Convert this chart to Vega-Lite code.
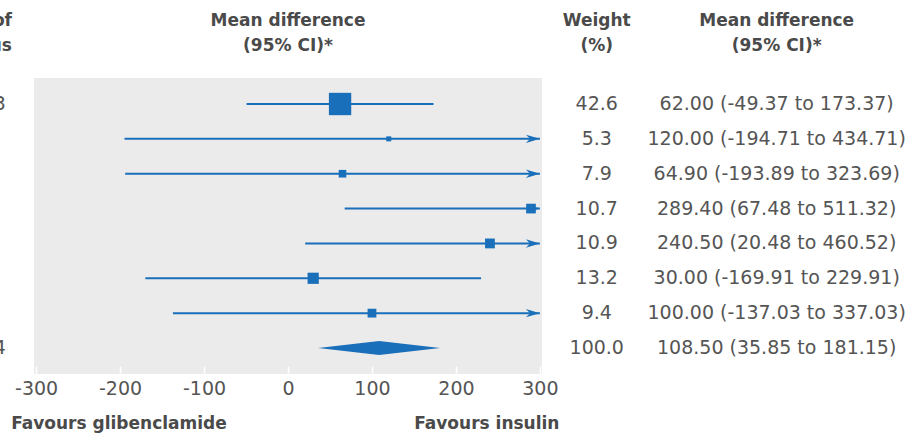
{
  "$schema": "https://vega.github.io/schema/vega-lite/v6.json",
  "width": 508,
  "height": 296,
  "autosize": {"type": "none"},
  "padding": {"left": 34, "top": 78, "right": 366, "bottom": 60},
  "background": "white",
  "config": {
    "font": "DejaVu Sans",
    "view": {"fill": "#ebebeb", "stroke": null}
  },
  "datasets": {
    "studies": [
      {"row": 1, "md": 62.0, "lo": -49.37, "hi": 173.37, "weight": 42.6, "label": "62.00 (-49.37 to 173.37)"},
      {"row": 2, "md": 120.0, "lo": -194.71, "hi": 434.71, "weight": 5.3, "label": "120.00 (-194.71 to 434.71)"},
      {"row": 3, "md": 64.9, "lo": -193.89, "hi": 323.69, "weight": 7.9, "label": "64.90 (-193.89 to 323.69)"},
      {"row": 4, "md": 289.4, "lo": 67.48, "hi": 511.32, "weight": 10.7, "label": "289.40 (67.48 to 511.32)"},
      {"row": 5, "md": 240.5, "lo": 20.48, "hi": 460.52, "weight": 10.9, "label": "240.50 (20.48 to 460.52)"},
      {"row": 6, "md": 30.0, "lo": -169.91, "hi": 229.91, "weight": 13.2, "label": "30.00 (-169.91 to 229.91)"},
      {"row": 7, "md": 100.0, "lo": -137.03, "hi": 337.03, "weight": 9.4, "label": "100.00 (-137.03 to 337.03)"}
    ],
    "total": [
      {"row": 8, "md": 108.5, "lo": 35.85, "hi": 181.15, "weight": 100.0, "label": "108.50 (35.85 to 181.15)"}
    ],
    "headers": [
      {"col": 0, "line": -1.39, "text": "Mean difference"},
      {"col": 0, "line": -0.67, "text": "(95% CI)*"},
      {"col": 367.7, "line": -1.39, "text": "Weight"},
      {"col": 367.7, "line": -0.67, "text": "(%)"},
      {"col": 582, "line": -1.39, "text": "Mean difference"},
      {"col": 582, "line": -0.67, "text": "(95% CI)*"}
    ],
    "fragments": [
      {"line": -1.39, "text": "of"},
      {"line": -0.67, "text": "us"}
    ],
    "rowfragments": [
      {"line": 1, "text": "3"},
      {"line": 8, "text": "4"}
    ],
    "favours": [
      {"side": "Favours glibenclamide", "pos": -201.3},
      {"side": "Favours insulin", "pos": 236.8}
    ]
  },
  "layer": [
    {
      "mark": {"type": "rule", "color": "#1a6fba", "strokeWidth": 2},
      "encoding": {
        "x": {"datum": 0, "type": "quantitative", "scale": {"domain": [-302.5, 302.5], "nice": false, "zero": false},
          "axis": {"values": [-300, -200, -100, 0, 100, 200, 300], "domain": false, "grid": false, "title": null,
            "tickColor": "white", "tickSize": -8, "tickWidth": 1.5, "labelFontSize": 19, "labelColor": "#555555",
            "labelPadding": 13, "labelFont": "DejaVu Sans", "labelFlush": false,
            "labelExpr": "replace(datum.label, '\u2212', '-')"}}
      }
    },
    {
      "mark": {"type": "rule", "color": "#1a6fba", "strokeWidth": 2, "strokeDash": [4, 3]},
      "encoding": {
        "x": {"datum": 108.5, "type": "quantitative"},
        "y": {"datum": 1.15, "type": "quantitative", "scale": {"domain": [0.254, 8.746], "reverse": true, "nice": false, "zero": false}, "axis": null},
        "y2": {"datum": 7.7}
      }
    },
    {
      "data": {"name": "studies"},
      "transform": [{"calculate": "min(datum.hi, 300)", "as": "hi_shown"}],
      "mark": {"type": "rule", "color": "#1a6fba", "strokeWidth": 2},
      "encoding": {
        "x": {"field": "lo", "type": "quantitative"},
        "x2": {"field": "hi_shown"},
        "y": {"field": "row", "type": "quantitative"}
      }
    },
    {
      "data": {"name": "studies"},
      "transform": [{"filter": "datum.hi > 300"}],
      "mark": {"type": "point", "shape": "M-2,-0.6L0,0L-2,0.6L-1.4,0Z", "size": 196, "filled": true, "color": "#1a6fba", "opacity": 1},
      "encoding": {
        "x": {"datum": 300, "type": "quantitative"},
        "y": {"field": "row", "type": "quantitative"}
      }
    },
    {
      "data": {"name": "studies"},
      "mark": {"type": "square", "filled": true, "color": "#1a6fba", "opacity": 1},
      "encoding": {
        "x": {"field": "md", "type": "quantitative"},
        "y": {"field": "row", "type": "quantitative"},
        "size": {"field": "weight", "type": "quantitative", "scale": {"domain": [5.3, 42.6], "range": [25, 500], "zero": false}, "legend": null}
      }
    },
    {
      "data": {"name": "total"},
      "mark": {"type": "point", "shape": "M-1,0L0,-0.115L1,0L0,0.115Z", "size": 14884, "filled": true, "color": "#1a6fba", "opacity": 1},
      "encoding": {
        "x": {"field": "md", "type": "quantitative"},
        "y": {"field": "row", "type": "quantitative"}
      }
    },
    {
      "data": {"name": "studies"},
      "mark": {"type": "text", "fontSize": 19, "color": "#555555", "align": "center", "baseline": "middle"},
      "encoding": {
        "x": {"datum": 367.7, "type": "quantitative"},
        "y": {"field": "row", "type": "quantitative"},
        "text": {"field": "weight", "type": "quantitative", "format": ".1f"}
      }
    },
    {
      "data": {"name": "total"},
      "mark": {"type": "text", "fontSize": 19, "color": "#555555", "align": "center", "baseline": "middle"},
      "encoding": {
        "x": {"datum": 367.7, "type": "quantitative"},
        "y": {"field": "row", "type": "quantitative"},
        "text": {"field": "weight", "type": "quantitative", "format": ".1f"}
      }
    },
    {
      "data": {"name": "studies"},
      "mark": {"type": "text", "fontSize": 19, "color": "#555555", "align": "center", "baseline": "middle"},
      "encoding": {
        "x": {"datum": 582, "type": "quantitative"},
        "y": {"field": "row", "type": "quantitative"},
        "text": {"field": "label", "type": "nominal"}
      }
    },
    {
      "data": {"name": "total"},
      "mark": {"type": "text", "fontSize": 19, "color": "#555555", "align": "center", "baseline": "middle"},
      "encoding": {
        "x": {"datum": 582, "type": "quantitative"},
        "y": {"field": "row", "type": "quantitative"},
        "text": {"field": "label", "type": "nominal"}
      }
    },
    {
      "data": {"name": "headers"},
      "mark": {"type": "text", "fontSize": 17, "fontWeight": "bold", "color": "#4a4a4a", "align": "center", "baseline": "middle"},
      "encoding": {
        "x": {"field": "col", "type": "quantitative"},
        "y": {"field": "line", "type": "quantitative"},
        "text": {"field": "text", "type": "nominal"}
      }
    },
    {
      "data": {"name": "fragments"},
      "mark": {"type": "text", "fontSize": 17, "fontWeight": "bold", "color": "#4a4a4a", "align": "right", "baseline": "middle"},
      "encoding": {
        "x": {"datum": -328.7, "type": "quantitative"},
        "y": {"field": "line", "type": "quantitative"},
        "text": {"field": "text", "type": "nominal"}
      }
    },
    {
      "data": {"name": "rowfragments"},
      "mark": {"type": "text", "fontSize": 19, "color": "#555555", "align": "right", "baseline": "middle"},
      "encoding": {
        "x": {"datum": -336, "type": "quantitative"},
        "y": {"field": "line", "type": "quantitative"},
        "text": {"field": "text", "type": "nominal"}
      }
    },
    {
      "data": {"name": "favours"},
      "mark": {"type": "text", "fontSize": 17, "fontWeight": "bold", "color": "#4a4a4a", "align": "center", "baseline": "middle"},
      "encoding": {
        "x": {"field": "pos", "type": "quantitative"},
        "y": {"datum": 10.18, "type": "quantitative"},
        "text": {"field": "side", "type": "nominal"}
      }
    }
  ]
}
